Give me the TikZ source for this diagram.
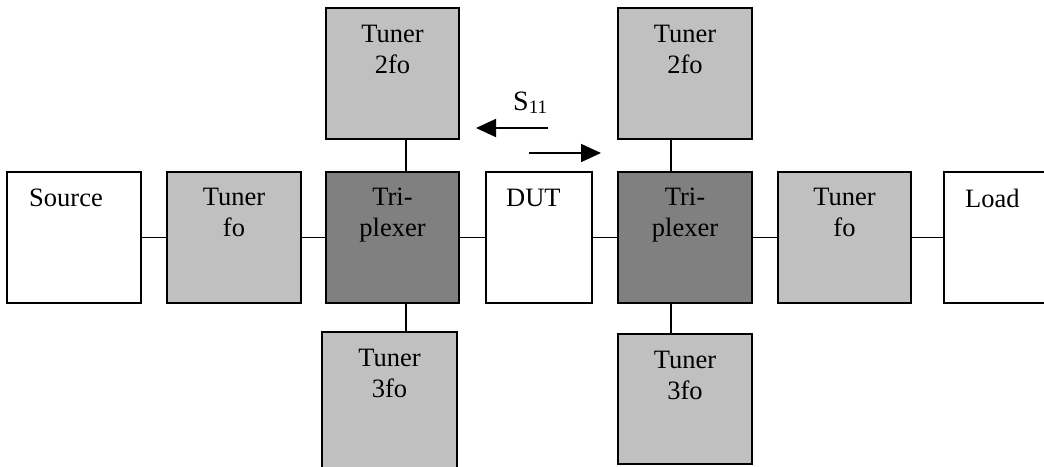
\documentclass[tikz,border=0pt]{standalone}
\usepackage{fontspec}
\setmainfont{Liberation Serif}
\usetikzlibrary{arrows.meta}
\definecolor{tunergray}{HTML}{C0C0C0}
\definecolor{plexgray}{HTML}{808080}
\begin{document}
\begin{tikzpicture}[x=1pt,y=-1pt,
  blk/.style={draw=black, line width=1.6pt, rectangle, inner sep=0pt, outer sep=0pt},
  plain/.style={blk, fill=white},
  tuner/.style={blk, fill=tunergray},
  plex/.style={blk, fill=plexgray},
  txt/.style={inner sep=0pt, font=\fontsize{26.5}{31}\selectfont, align=center},
  wire/.style={line width=1.6pt},
  sarrow/.style={line width=1.8pt, -{Triangle[length=20pt,width=18pt]}}
]
\useasboundingbox (0,0) rectangle (1044,466);
\clip (0,0) rectangle (1044,466);

% main chain
\node[plain, minimum width=134, minimum height=131] (src)  at (74,237.5)   {};
\node[tuner, minimum width=134, minimum height=131] (tfoL) at (234,237.5)  {};
\node[plex,  minimum width=133, minimum height=131] (triL) at (392.5,237.5){};
\node[plain, minimum width=106, minimum height=131] (dut)  at (539,237.5)  {};
\node[plex,  minimum width=134, minimum height=131] (triR) at (685,237.5)  {};
\node[tuner, minimum width=133, minimum height=131] (tfoR) at (844.5,237.5){};
\node[plain, minimum width=134, minimum height=131] (load) at (1011,237.5) {};

% harmonic tuners
\node[tuner, minimum width=133, minimum height=131] (t2L) at (392.5,73.5) {};
\node[tuner, minimum width=134, minimum height=131] (t2R) at (685,73.5)   {};
\node[tuner, minimum width=135, minimum height=136] (t3L) at (389.5,400)  {};
\node[tuner, minimum width=134, minimum height=130] (t3R) at (685,399)    {};

% labels
\node[txt, anchor=north west] (lsrc) at ([xshift=22,yshift=-17]src.north west) {Source};
\node[txt, anchor=north] (ltfoL) at ([yshift=-16]tfoL.north) {Tuner\\fo};
\node[txt, anchor=north] (ltriL) at ([yshift=-16]triL.north) {Tri-\\plexer};
\node[txt, anchor=north west] (ldut) at ([xshift=20,yshift=-17]dut.north west) {DUT};
\node[txt, anchor=north] (ltriR) at ([yshift=-16]triR.north) {Tri-\\plexer};
\node[txt, anchor=north] (ltfoR) at ([yshift=-16]tfoR.north) {Tuner\\fo};
\node[txt, anchor=north west] (lload) at ([xshift=21,yshift=-17]load.north west) {Load};
\node[txt, anchor=north] (lt2L) at ([yshift=-17]t2L.north) {Tuner\\2fo};
\node[txt, anchor=north] (lt2R) at ([yshift=-17]t2R.north) {Tuner\\2fo};
\node[txt, anchor=north] (lt3L) at ([yshift=-17]t3L.north) {Tuner\\3fo};
\node[txt, anchor=north] (lt3R) at ([yshift=-17]t3R.north) {Tuner\\3fo};

% connectors
\draw[wire] (src) -- (tfoL);
\draw[wire] (tfoL) -- (triL);
\draw[wire] (triL) -- (dut);
\draw[wire] (dut) -- (triR);
\draw[wire] (triR) -- (tfoR);
\draw[wire] (tfoR) -- (load);
\draw[wire] ([xshift=13.5]triL.north) -- ([xshift=13.5]triL.north |- t2L.south);
\draw[wire] ([xshift=13.5]triL.south) -- ([xshift=13.5]triL.south |- t3L.north);
\draw[wire] ([xshift=-14]triR.north) -- ([xshift=-14]triR.north |- t2R.south);
\draw[wire] ([xshift=-14]triR.south) -- ([xshift=-14]triR.south |- t3R.north);

% reflection coefficient
\node[inner sep=0pt, anchor=base west, font=\fontsize{28}{28}\selectfont] (s11) at (513,110)
  {S\raisebox{-3pt}{\fontsize{19}{19}\selectfont 11}};
\coordinate (refA) at (548,128);
\coordinate (refB) at (476,128);
\coordinate (incA) at (529,153);
\coordinate (incB) at (601,153);
\draw[sarrow] (refA) -- (refB);
\draw[sarrow] (incA) -- (incB);
\end{tikzpicture}
\end{document}
